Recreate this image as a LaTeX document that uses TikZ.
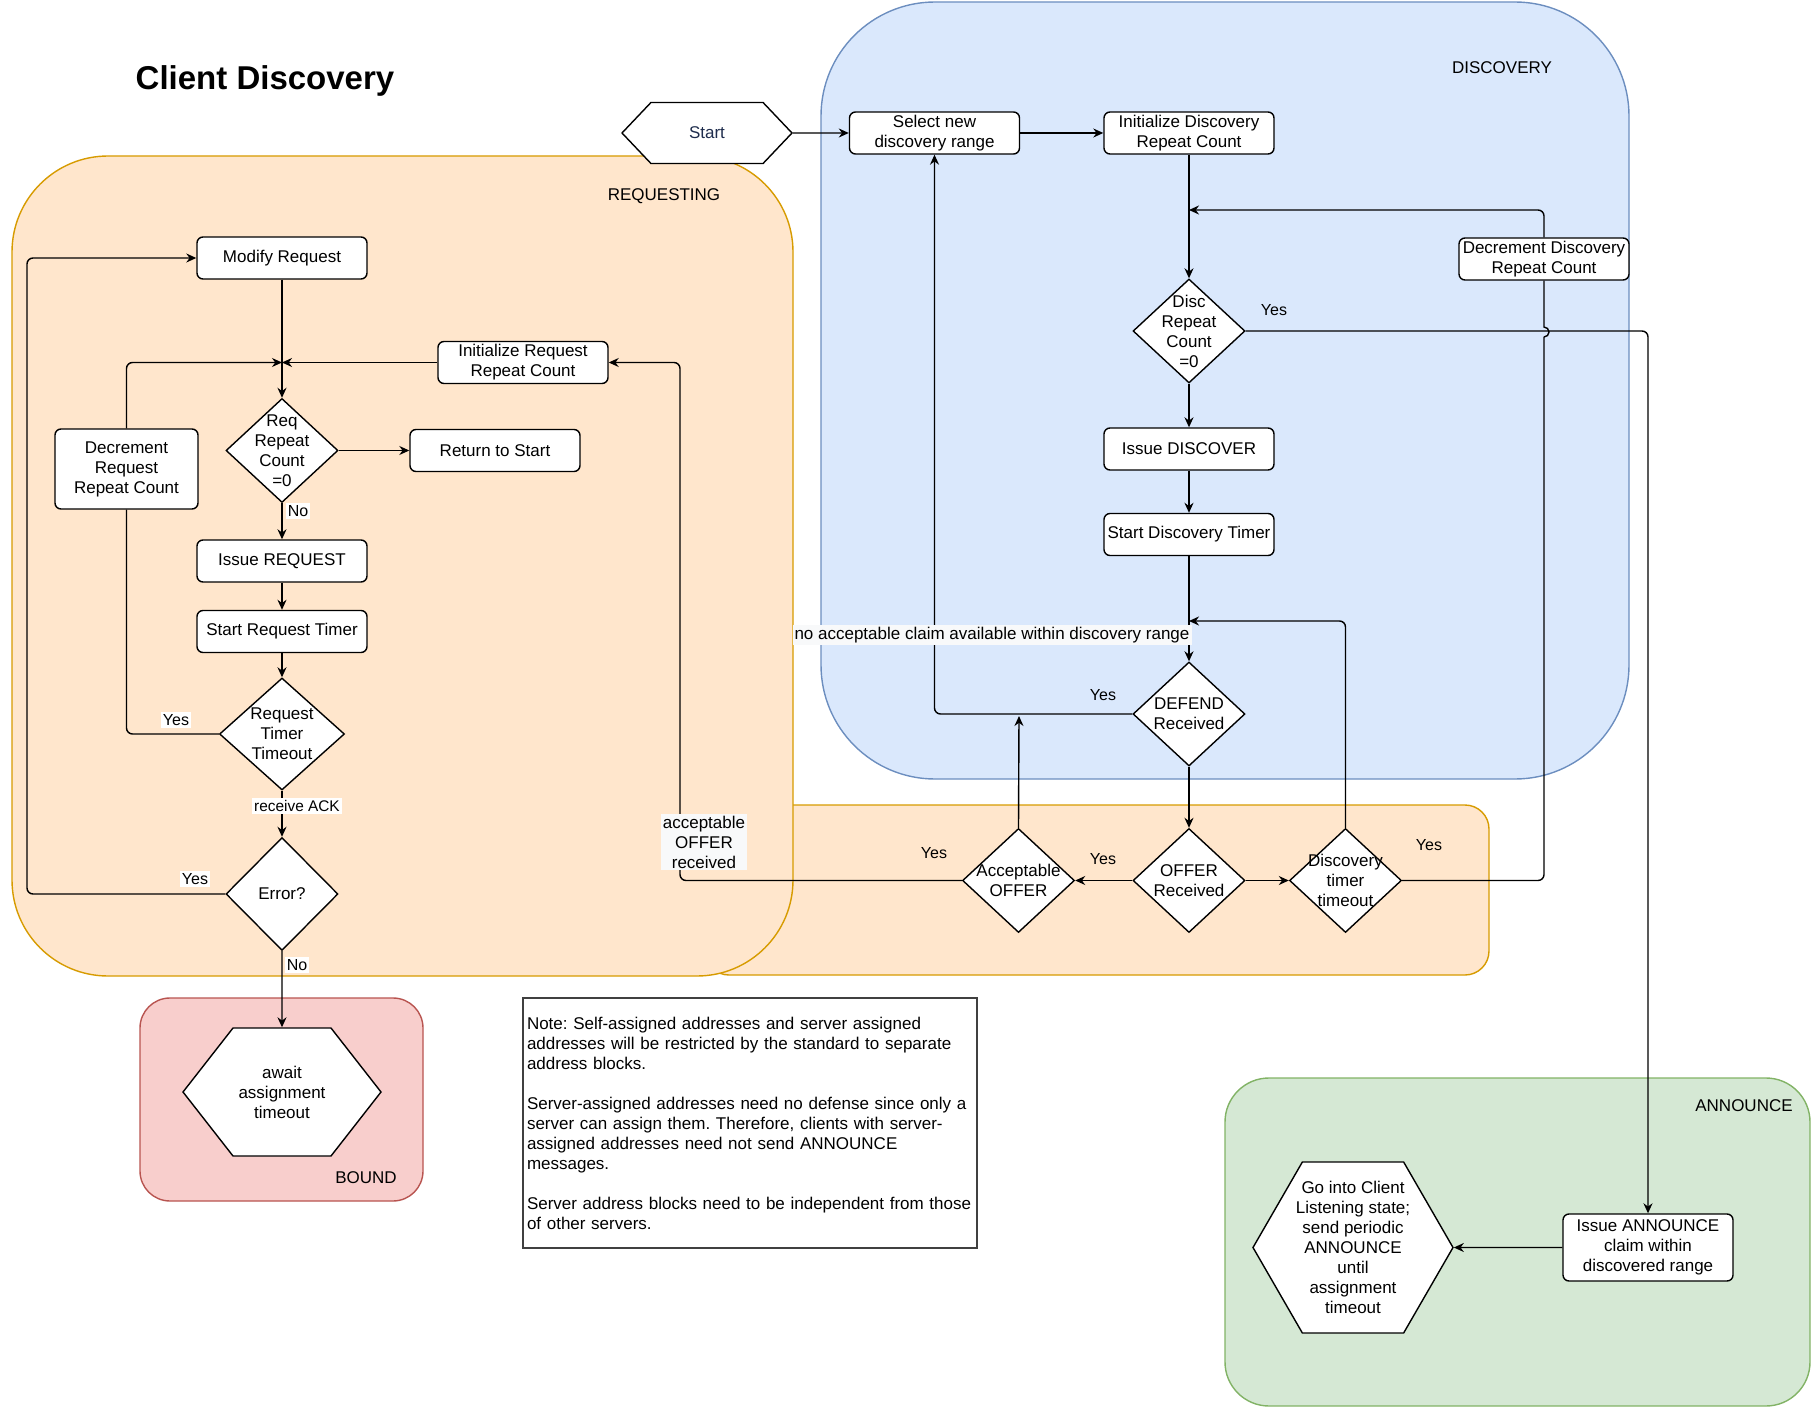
\documentclass[tikz,border=0pt]{standalone}
\usepackage{fontspec}
\setmainfont{Liberation Sans}
\usetikzlibrary{shapes.geometric,shapes.symbols,arrows.meta}
\definecolor{reqfill}{HTML}{FFE6CC}
\definecolor{reqline}{HTML}{D79B00}
\definecolor{discfill}{HTML}{DAE8FC}
\definecolor{discline}{HTML}{6C8EBF}
\definecolor{boundfill}{HTML}{F8CECC}
\definecolor{boundline}{HTML}{B85450}
\definecolor{annfill}{HTML}{D5E8D4}
\definecolor{annline}{HTML}{82B366}
\definecolor{starttxt}{HTML}{1F2D4D}
\definecolor{tagfill}{HTML}{F8F9FA}
\frenchspacing

\begin{document}
\begin{tikzpicture}[x=0.5pt, y=-0.5pt, node distance=35pt, font=\fontsize{8.5}{10}\selectfont,
  box/.style={draw, fill=white, rounded corners=3pt, minimum width=85pt, minimum height=21pt, align=center, inner sep=1pt, line width=0.7pt},
  dia/.style={diamond, draw, fill=white, inner sep=0pt, minimum width=56pt, minimum height=52pt, line width=0.7pt, label={[align=center]center:#1}},
  hexa/.style={signal, signal to=east and west, draw, fill=white, align=center, inner sep=0pt, line width=0.7pt},
  lane/.style={line width=0.7pt},
  conn/.style={-{Stealth[length=5pt,width=4.5pt]}, line width=0.7pt, rounded corners=3pt},
  wire/.style={line width=0.7pt, rounded corners=3pt},
  tag/.style={fill=white, inner sep=1pt, font=\fontsize{8}{9.5}\selectfont},
  yes/.style={inner sep=1pt, font=\fontsize{8}{9.5}\selectfont}]
\useasboundingbox (0,0) rectangle (1811,1407);

\filldraw[fill=reqfill, draw=reqline, lane, rounded corners=12pt] (705,805) rectangle (1489,975);
\filldraw[fill=reqfill, draw=reqline, lane, rounded corners=48pt] (12,156) rectangle (793,976);
\filldraw[fill=discfill, draw=discline, lane, rounded corners=57pt] (821,2) rectangle (1629,779);
\filldraw[fill=boundfill, draw=boundline, lane, rounded corners=15pt] (140,998) rectangle (423,1201);
\filldraw[fill=annfill, draw=annline, lane, rounded corners=22pt] (1225,1078) rectangle (1810,1406);

\node[font=\fontsize{16.5}{20}\selectfont\bfseries] (title) at (265,81) {Client Discovery};
\node (reqlbl) at (664,196) {REQUESTING};
\node (disclbl) at (1502,68) {DISCOVERY};
\node (boundlbl) at (366,1178) {BOUND};
\node (annlbl) at (1744,1106) {ANNOUNCE};

\node[box] (modreq) at (282,258) {Modify Request};
\node[dia={Req\\Repeat\\Count\\=0}, below of=modreq, node distance=96.25pt] (reqc) {};
\node[box, right of=reqc, node distance=106.5pt] (retst) {Return to Start};
\node[box] (inireq) at (523,362.5) {Initialize Request\\Repeat Count};
\node[box, minimum width=71.5pt, minimum height=40pt] (decreq) at (126.5,469) {Decrement\\Request\\Repeat Count};
\node[box, below of=reqc, node distance=55.25pt] (issreq) {Issue REQUEST};
\node[box, below of=issreq, node distance=35.25pt] (streq) {Start Request Timer};
\node[dia={Request\\Timer\\Timeout}, minimum width=62.5pt, minimum height=56pt, below of=streq, node distance=51.25pt] (reqto) {};
\node[dia={Error?}, minimum height=56.5pt, below of=reqto, node distance=80pt] (err) {};
\node[hexa, signal pointer angle=104, minimum width=99pt, minimum height=64pt, below of=err, node distance=99pt] (await) {await\\assignment\\timeout};

\node[hexa, signal pointer angle=93, minimum width=85pt, minimum height=30.5pt, text=starttxt] (start) at (707,133) {Start};
\node[box, right of=start, node distance=113.75pt] (selr) {Select new\\discovery range};
\node[box, right of=selr, node distance=127.25pt] (inid) {Initialize Discovery\\Repeat Count};
\node[box] (decd) at (1544,259) {Decrement Discovery\\Repeat Count};
\node[dia={Disc\\Repeat\\Count\\=0}, below of=inid, node distance=99pt] (dcnt) {};
\node[box, below of=dcnt, node distance=59pt] (issd) {Issue DISCOVER};
\node[box, below of=issd, node distance=42.75pt] (stdt) {Start Discovery Timer};
\node[dia={DEFEND\\Received}, below of=stdt, node distance=89.75pt] (defd) {};
\node[dia={OFFER\\Received}, below of=defd, node distance=83.25pt] (offr) {};
\node[dia={Acceptable\\OFFER}, left of=offr, node distance=85.25pt] (acco) {};
\node[dia={Discovery\\timer\\timeout}, right of=offr, node distance=78.25pt] (dto) {};

\node[box, minimum height=33.5pt] (issa) at (1648,1247.5) {Issue ANNOUNCE\\claim within\\discovered range};
\node[hexa, signal pointer angle=120, inner xsep=-4pt, minimum width=100pt, minimum height=85.5pt, left of=issa, node distance=147.5pt] (goin) {Go into Client\\Listening state;\\send periodic\\ANNOUNCE\\until\\assignment\\timeout};

\node[draw=black!75, line width=0.8pt, minimum width=227pt, minimum height=125pt, text width=223pt, align=left, inner sep=1pt] (note) at (750,1123) {Note: Self-assigned addresses and server assigned\\addresses will be restricted by the standard to separate\\address blocks.\\[10pt]Server-assigned addresses need no defense since only a\\server can assign them. Therefore, clients with server-\\assigned addresses need not send ANNOUNCE\\messages.\\[10pt]Server address blocks need to be independent from those\\of other servers.};

\draw[conn] (start) -- (selr);
\draw[conn] (selr) -- (inid);
\draw[conn] (inid) -- (dcnt);
\draw[conn] (dcnt) -- (issd);
\draw[conn] (issd) -- (stdt);
\draw[conn] (stdt) -- (defd);
\draw[conn] (defd) -- (offr);
\draw[conn] (offr) -- (acco);
\draw[conn] (offr) -- (dto);
\coordinate (dj) at (1189,621);
\draw[conn] (dto.north) |- (dj);
\draw[conn] (defd.west) -| (selr.south);
\coordinate (aj) at (1019,716);
\draw[conn] (acco.north) -- (aj);
\coordinate (aor) at (680,362.5);
\draw[conn] (acco.west) -| (aor) -- (inireq.east);
\coordinate (hopb) at (1544,337);
\draw[wire] (dto.east) -| (hopb);
\draw[lane] (hopb) arc[start angle=90, end angle=-90, radius=5] -- (decd.south);
\coordinate (cj) at (1189,210);
\draw[conn] (decd.north) |- (cj);
\draw[conn] (dcnt.east) -| (issa.north);
\draw[conn] (issa) -- (goin);

\draw[conn] (modreq) -- (reqc);
\coordinate (rj) at (282,362.5);
\draw[conn] (inireq.west) -- (rj);
\draw[conn] (decreq.north) |- (rj);
\draw[conn] (reqc) -- (retst);
\draw[conn] (reqc) -- (issreq);
\draw[conn] (issreq) -- (streq);
\draw[conn] (streq) -- (reqto);
\draw[conn] (reqto) -- (err);
\draw[conn] (err) -- (await);
\draw[wire] (reqto.west) -| (decreq.south);
\coordinate (lp) at (27,600);
\draw[conn] (err.west) -| (lp) |- (modreq.west);

\node[tag] (no1) at (298,511) {No};
\node[tag] (yes1) at (176,720) {Yes};
\node[tag, font=\fontsize{7.7}{9}\selectfont] (ack) at (297,806) {receive ACK};
\node[tag] (yes2) at (195,879) {Yes};
\node[tag] (no2) at (297,965) {No};
\node[tag, fill=tagfill, align=center, font=\fontsize{8.5}{10}\selectfont] (accl) at (704,842) {acceptable\\OFFER\\received};
\node[tag, fill=tagfill, font=\fontsize{8.5}{10}\selectfont] (nocl) at (992,635) {no acceptable claim available within discovery range};
\node[yes] (yes3) at (934,853) {Yes};
\node[yes] (yes4) at (1103,859) {Yes};
\node[yes] (yes5) at (1429,845) {Yes};
\node[yes] (yes6) at (1103,695) {Yes};
\node[yes] (yes7) at (1274,310) {Yes};
\end{tikzpicture}
\end{document}
